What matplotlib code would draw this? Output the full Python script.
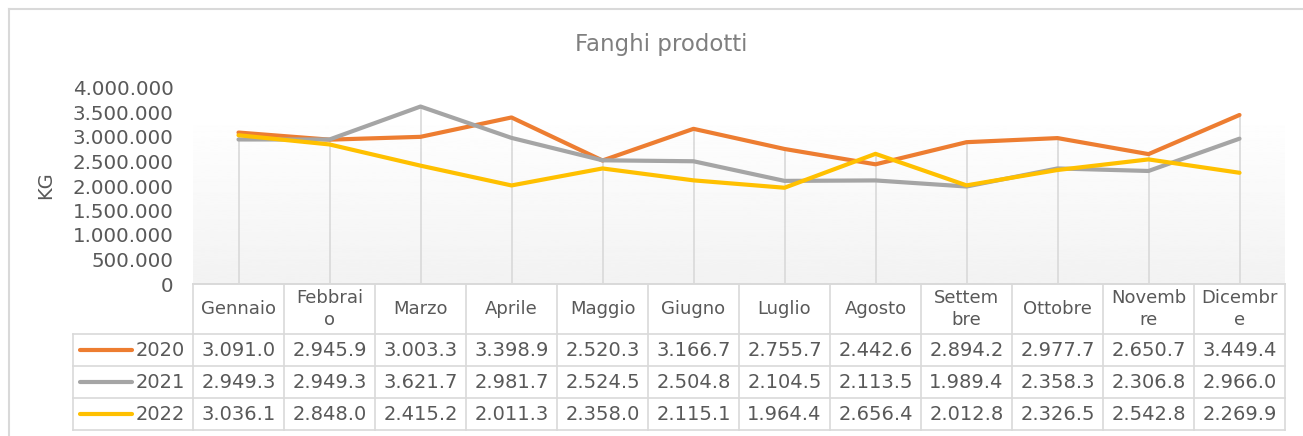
import numpy as np
import matplotlib
matplotlib.use("Agg")
import matplotlib.pyplot as plt
from matplotlib.lines import Line2D
import matplotlib.transforms as mtransforms

# data (thousands of kg, as shown in the data table)
months = ["Gennaio", "Febbraio", "Marzo", "Aprile", "Maggio", "Giugno",
          "Luglio", "Agosto", "Settembre", "Ottobre", "Novembre", "Dicembre"]
month_labels = ["Gennaio", "Febbrai\no", "Marzo", "Aprile", "Maggio", "Giugno",
                "Luglio", "Agosto", "Settem\nbre", "Ottobre", "Novemb\nre", "Dicembr\ne"]
years = ["2020", "2021", "2022"]
v2020 = [3091.0, 2945.9, 3003.3, 3398.9, 2520.3, 3166.7, 2755.7, 2442.6, 2894.2, 2977.7, 2650.7, 3449.4]
v2021 = [2949.3, 2949.3, 3621.7, 2981.7, 2524.5, 2504.8, 2104.5, 2113.5, 1989.4, 2358.3, 2306.8, 2966.0]
v2022 = [3036.1, 2848.0, 2415.2, 2011.3, 2358.0, 2115.1, 1964.4, 2656.4, 2012.8, 2326.5, 2542.8, 2269.9]
yticks = [0, 500000, 1000000, 1500000, 2000000, 2500000, 3000000, 3500000, 4000000]

series = [v2020, v2021, v2022]
colors = ["#ED7D31", "#A5A5A5", "#FFC000"]
txt = "#595959"
grid = "#D9D9D9"

W, H = 1303, 436
fig = plt.figure(figsize=(W / 100, H / 100), dpi=100)
ax = fig.add_axes([193 / W, 1 - 284 / H, (1285 - 193) / W, (284 - 88) / H])

x = np.arange(len(months))
ax.set_xlim(-0.5, len(months) - 0.5)
ax.set_ylim(0, 4000000)

# plot area gradient
grad = np.linspace(1.0, 0.95, 256).reshape(-1, 1)
ax.imshow(grad, extent=[-0.5, len(months) - 0.5, 0, 3490000], aspect="auto",
          cmap="gray", vmin=0, vmax=1, zorder=0, origin="upper")

# drop lines
tops = np.max(np.array(series), axis=0) * 1000
ax.vlines(x, 0, tops, color=grid, lw=1.2, zorder=1)

for vals, c in zip(series, colors):
    ax.plot(x, np.array(vals) * 1000, color=c, lw=3.0, solid_capstyle="round",
            solid_joinstyle="round", zorder=3)

for s in ["top", "right", "left"]:
    ax.spines[s].set_visible(False)
ax.spines["bottom"].set_color(grid)
ax.spines["bottom"].set_linewidth(1.2)
ax.set_xticks([])
ax.set_yticks(yticks)
ax.set_yticklabels([f"{t:,}".replace(",", ".") for t in yticks], color=txt, fontsize=14.3)
ax.tick_params(axis="y", length=0, pad=14)
ax.set_ylabel("KG", color=txt, fontsize=14, labelpad=6)
ax.yaxis.set_label_coords((55 - 193) / (1285 - 193), (284 - 185) / (284 - 88))

fig.text(661 / W, 1 - 45 / H, "Fanghi prodotti", ha="center", va="center",
         color="#7F7F7F", fontsize=16.5)

# data table below the axes: x in data units, y in figure pixels
tr = mtransforms.blended_transform_factory(ax.transData, fig.dpi_scale_trans)
def py(p):
    return (H - p) / 100

def hline(x0, x1, ypx, transform=tr):
    fig.add_artist(Line2D([x0, x1], [py(ypx), py(ypx)], color=grid, lw=1.2, transform=transform))

def vline(xv, y0, y1, transform=tr):
    fig.add_artist(Line2D([xv, xv], [py(y0), py(y1)], color=grid, lw=1.2, transform=transform))

rows = [284, 334, 366, 398, 430]
n = len(months)
for i in range(n + 1):
    vline(i - 0.5, rows[0], rows[-1])
for r in rows:
    hline(-0.5, n - 0.5, r)

for i, lab in enumerate(month_labels):
    fig.text(i, py((rows[0] + rows[1]) / 2), lab, transform=tr, ha="center", va="center",
             color=txt, fontsize=13, linespacing=1.25)
    for j, vals in enumerate(series):
        s = f"{vals[i]:,.1f}".replace(",", ".")
        fig.text(i, py((rows[j + 1] + rows[j + 2]) / 2), s, transform=tr,
                 ha="center", va="center", color=txt, fontsize=14)

# row labels with legend keys (figure pixels)
pt = fig.dpi_scale_trans
hline(73 / 100, 193 / 100, rows[1], transform=pt)
vline(73 / 100, rows[1], rows[-1], transform=pt)
for j in range(3):
    hline(73 / 100, 193 / 100, rows[j + 2], transform=pt)
    yc = py((rows[j + 1] + rows[j + 2]) / 2)
    fig.add_artist(Line2D([80 / 100, 132 / 100], [yc, yc], color=colors[j], lw=3.0,
                          solid_capstyle="round", transform=pt))
    fig.text(185 / 100, yc, years[j], transform=pt, ha="right", va="center",
             color=txt, fontsize=14)

# chart border (cropped at right and bottom)
fig.add_artist(Line2D([9 / W, 1.0], [1 - 9 / H, 1 - 9 / H], color=grid, lw=1.5,
                      transform=fig.transFigure))
fig.add_artist(Line2D([9 / W, 9 / W], [0, 1 - 9 / H], color=grid, lw=1.5,
                      transform=fig.transFigure))

fig.savefig("out.png", dpi=100)
